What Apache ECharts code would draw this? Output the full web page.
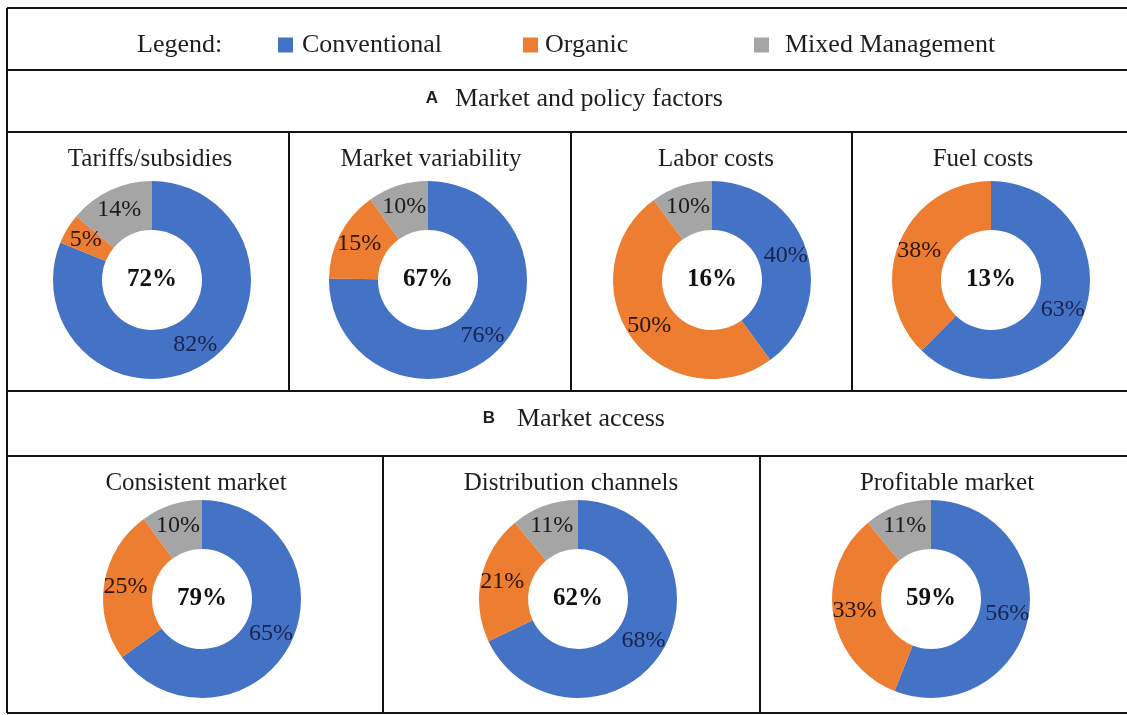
<!DOCTYPE html>
<html>
<head>
<meta charset="utf-8">
<script src="https://cdn.jsdelivr.net/npm/echarts@6/dist/echarts.min.js"></script>
<style>
html,body{margin:0;padding:0;background:#fff;}
#chart{width:1127px;height:715px;}
</style>
</head>
<body>
<div id="chart"></div>
<script>
// ---- Data ----
const categories = ['Conventional', 'Organic', 'Mixed Management'];
const chartTitles = ['Tariffs/subsidies', 'Market variability', 'Labor costs', 'Fuel costs',
                     'Consistent market', 'Distribution channels', 'Profitable market'];
const conventional = [82, 76, 40, 63, 65, 68, 56];
const organic      = [5, 15, 50, 38, 25, 21, 33];
const mixed        = [14, 10, 10, null, 10, 11, 11];
const overall      = [72, 67, 16, 13, 79, 62, 59];
const sectionLabels = [['A', 'Market and policy factors'], ['B', 'Market access']];

// ---- Styling / layout ----
const colors = ['#4472C4', '#ED7D31', '#A5A5A5'];
const labelColors = ['#18234f', '#2a1507', '#1a1a1a'];
const serif = '"Liberation Serif", "Times New Roman", serif';
const sans = '"Liberation Sans", Arial, sans-serif';
const pieCenters = [[152, 280], [428, 280], [712, 280], [991, 280], [202, 599], [578, 599], [931, 599]];
const titlePos = [[150, 159], [431, 159], [716, 159], [983, 159], [196, 483], [571, 483], [947, 483]];

const chart = echarts.init(document.getElementById('chart'), null, {renderer: 'canvas'});

const series = chartTitles.map((t, i) => {
  const vals = [conventional[i], organic[i], mixed[i]];
  const data = [];
  vals.forEach((v, k) => {
    if (v !== null && v !== undefined) {
      data.push({
        name: categories[k], value: v,
        itemStyle: {color: colors[k]},
        label: {color: labelColors[k]}
      });
    }
  });
  return {
    type: 'pie',
    name: t,
    center: pieCenters[i],
    radius: [50, 99],
    startAngle: 90,
    clockwise: true,
    silent: true,
    animation: false,
    avoidLabelOverlap: false,
    itemStyle: {borderWidth: 0},
    label: {
      show: true, position: 'inside', formatter: '{c}%',
      fontFamily: serif, fontSize: 24, fontWeight: 'normal'
    },
    labelLine: {show: false},
    emphasis: {disabled: true},
    data: data
  };
});

const graphics = [];
const lineStyle = {stroke: '#141414', lineWidth: 2};
function hline(y, x1, x2) { graphics.push({type: 'line', shape: {x1: x1, y1: y, x2: x2, y2: y}, style: lineStyle, silent: true}); }
function vline(x, y1, y2) { graphics.push({type: 'line', shape: {x1: x, y1: y1, x2: x, y2: y2}, style: lineStyle, silent: true}); }
[8, 70, 132, 391, 456, 713].forEach(y => hline(y, 7, 1127));
vline(7, 8, 713);
[289, 571, 852].forEach(x => vline(x, 132, 391));
[383, 760].forEach(x => vline(x, 456, 713));

// Legend prefix
graphics.push({type: 'text', x: 137, y: 45, silent: true,
  style: {text: 'Legend:', font: '26px ' + serif, fill: '#1e1e1e', textAlign: 'left', textVerticalAlign: 'middle'}});

// Section headers
const secY = [99, 419];
const secX = [[432, 455], [489, 517]];
sectionLabels.forEach((s, i) => {
  graphics.push({type: 'text', x: secX[i][0], y: secY[i] - 1, silent: true,
    style: {text: s[0], font: 'bold 17px ' + sans, fill: '#1e1e1e', textAlign: 'center', textVerticalAlign: 'middle'}});
  graphics.push({type: 'text', x: secX[i][1], y: secY[i], silent: true,
    style: {text: s[1], font: '26px ' + serif, fill: '#1e1e1e', textAlign: 'left', textVerticalAlign: 'middle'}});
});

// Chart titles and centre values
chartTitles.forEach((t, i) => {
  graphics.push({type: 'text', x: titlePos[i][0], y: titlePos[i][1], silent: true,
    style: {text: t, font: '25px ' + serif, fill: '#1e1e1e', textAlign: 'center', textVerticalAlign: 'middle'}});
  graphics.push({type: 'text', x: pieCenters[i][0], y: pieCenters[i][1], silent: true, z: 100,
    style: {text: overall[i] + '%', font: 'bold 25px ' + serif, fill: '#111', textAlign: 'center', textVerticalAlign: 'middle'}});
});

const legendCommon = {
  orient: 'horizontal', icon: 'rect', itemWidth: 15, itemHeight: 15, top: 27,
  selectedMode: false,
  textStyle: {fontFamily: serif, fontSize: 26, color: '#1e1e1e'}
};
const legendLeft = [273, 518, 749];
const legendPad = [[0, 0, 0, 4], [0, 0, 0, 2], [0, 0, 0, 11]];

chart.setOption({
  backgroundColor: '#ffffff',
  animation: false,
  legend: categories.map((c, k) => Object.assign({}, legendCommon, {
    data: [c], left: legendLeft[k],
    textStyle: Object.assign({}, legendCommon.textStyle, {padding: legendPad[k]})
  })),
  graphic: {elements: graphics},
  series: series
});
</script>
</body>
</html>
